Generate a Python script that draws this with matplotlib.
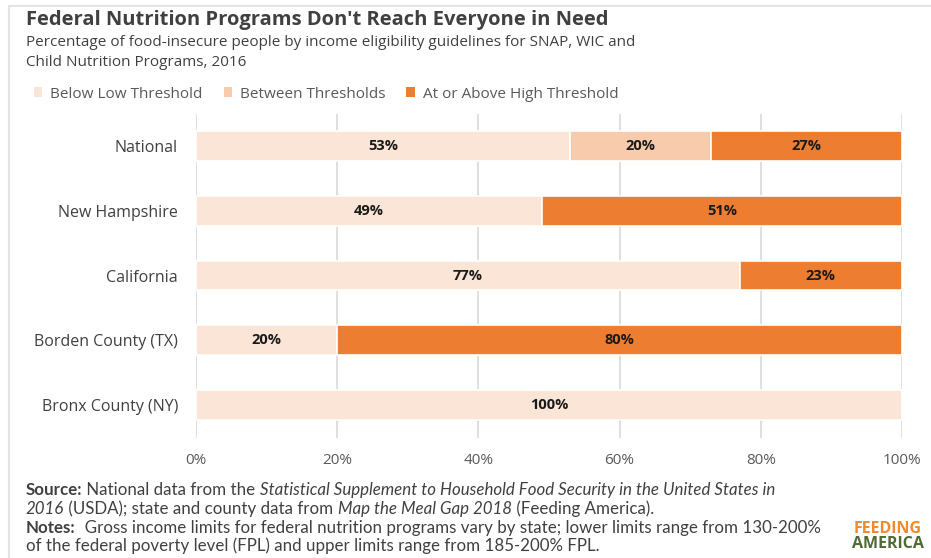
import matplotlib.pyplot as plt
from matplotlib.patches import Patch
from matplotlib.lines import Line2D

plt.rcParams['font.family'] = ['Open Sans', 'DejaVu Sans']

places = ['National', 'New Hampshire', 'California', 'Borden County (TX)', 'Bronx County (NY)']
below_low = [53, 49, 77, 20, 100]
between = [20, 0, 0, 0, 0]
above_high = [27, 51, 23, 80, 0]

series_names = ['Below Low Threshold', 'Between Thresholds', 'At or Above High Threshold']
colors = ['#FBE5D6', '#F8CBAD', '#ED7D31']
ticks = [0, 20, 40, 60, 80, 100]

fig = plt.figure(figsize=(9.31, 5.58), dpi=100)
ax = fig.add_axes([196 / 931, 1 - 437.5 / 558, 706 / 931, 324 / 558])

ypos = list(range(len(places)))
left = [0] * len(places)
for vals, col in zip([below_low, between, above_high], colors):
    bars = ax.barh(ypos, vals, left=left, height=0.46, color=col,
                   edgecolor='white', linewidth=1.2, zorder=3)
    for b, v in zip(bars, vals):
        if v > 0:
            ax.text(b.get_x() + b.get_width() / 2, b.get_y() + b.get_height() / 2,
                    f'{v}%', ha='center', va='center', fontsize=10.5,
                    fontweight='bold', color='#1a1a1a', zorder=4)
    left = [l + v for l, v in zip(left, vals)]

ax.set_xlim(0, 100)
ax.set_ylim(len(places) - 0.5, -0.5)
ax.set_yticks(ypos)
ax.set_yticklabels(places, fontsize=11.5, color='#404040')
ax.set_xticks(ticks)
ax.set_xticklabels([f'{t}%' for t in ticks], fontsize=11, color='#595959')
ax.tick_params(length=0)
ax.tick_params(axis='y', pad=13)
ax.tick_params(axis='x', pad=11)
ax.grid(axis='x', color='#D9D9D9', linewidth=1.2, zorder=0)
for s in ax.spines.values():
    s.set_visible(False)

# titles
fig.text(26 / 931, 1 - 20 / 558, "Federal Nutrition Programs Don't Reach Everyone in Need",
         fontsize=14.5, fontweight='bold', color='#404040', va='center')
fig.text(26 / 931, 1 - 43 / 558,
         'Percentage of food-insecure people by income eligibility guidelines for SNAP, WIC and',
         fontsize=11, color='#404040', va='center')
fig.text(26 / 931, 1 - 63 / 558, 'Child Nutrition Programs, 2016',
         fontsize=11, color='#404040', va='center')

# legend
handles = [Patch(facecolor=c, edgecolor='none') for c in colors]
fig.legend(handles, series_names, loc='center left', bbox_to_anchor=(20 / 931, 1 - 94 / 558),
           ncol=3, frameon=False, fontsize=11, handlelength=0.55, handleheight=0.55,
           handletextpad=0.5, columnspacing=1.4, labelcolor='#595959')

# footnotes, built piece by piece so bold / italic runs sit on one line
foot_y = [490, 509, 528, 546]
fs = 12.2
ff = ['Lato', 'DejaVu Sans']
line1 = [('Source:', 'bold', 'normal'),
         (' National data from the ', 'normal', 'normal'),
         ('Statistical Supplement to Household Food Security in the United States in', 'normal', 'italic')]
line2 = [('2016', 'normal', 'italic'),
         (' (USDA); state and county data from ', 'normal', 'normal'),
         ('Map the Meal Gap 2018', 'normal', 'italic'),
         (' (Feeding America).', 'normal', 'normal')]
line3 = [('Notes:', 'bold', 'normal'),
         ('  Gross income limits for federal nutrition programs vary by state; lower limits range from 130-200%',
          'normal', 'normal')]
line4 = [('of the federal poverty level (FPL) and upper limits range from 185-200% FPL.', 'normal', 'normal')]

fig.canvas.draw()
renderer = fig.canvas.get_renderer()
for y, parts in zip(foot_y, [line1, line2, line3, line4]):
    x = 26 / 931
    for txt, w, st in parts:
        tt = fig.text(x, 1 - y / 558, txt, fontsize=fs, fontweight=w, style=st,
                      color='#404040', va='center', family=ff)
        bb = tt.get_window_extent(renderer=renderer)
        x += bb.width / fig.bbox.width

# logo wordmark
fig.text(888 / 931, 1 - 529 / 558, 'FEEDING', fontsize=11.5, fontweight='bold',
         color='#F08A2C', ha='center', va='center')
fig.text(888 / 931, 1 - 544 / 558, 'AMERICA', fontsize=11.5, fontweight='bold',
         color='#4E6B34', ha='center', va='center')

# frame lines along top and left
fig.add_artist(Line2D([9 / 931, 1], [1 - 6 / 558] * 2, color='#E3E3E3', linewidth=1.5))
fig.add_artist(Line2D([9 / 931] * 2, [0, 1 - 6 / 558], color='#E3E3E3', linewidth=1.5))

fig.savefig('out.png', dpi=100)
